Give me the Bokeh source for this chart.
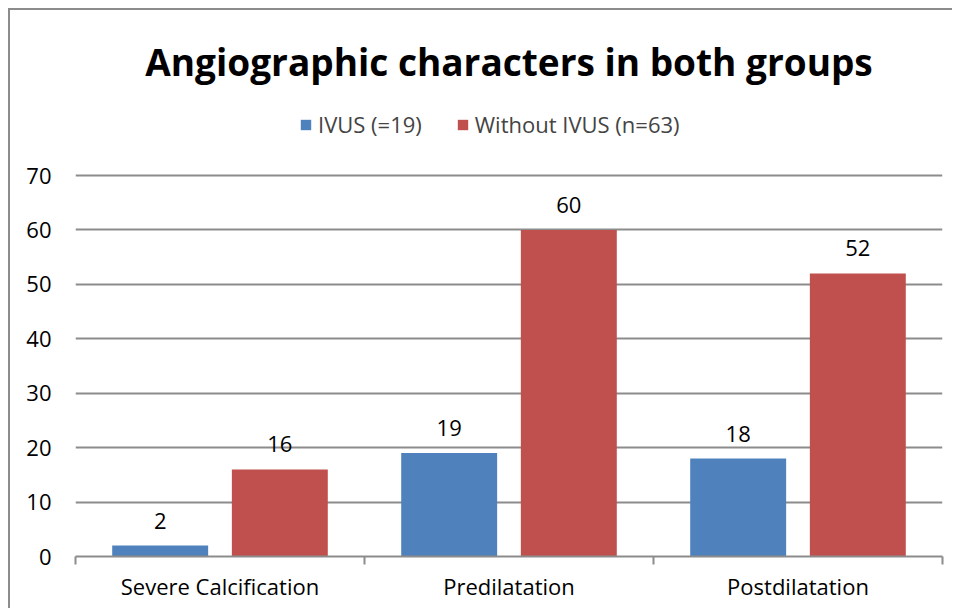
from bokeh.plotting import figure
from bokeh.models import (Range1d, FixedTicker, ColumnDataSource, LabelSet, Legend,
                          LegendItem, Title)
from bokeh.core.properties import value
from bokeh.embed import file_html
from bokeh.resources import INLINE
import numpy as np

categories = ["Severe Calcification", "Predilatation", "Postdilatation"]
ivus = [2, 19, 18]
without_ivus = [16, 60, 52]
series_names = ["IVUS (=19)", "Without IVUS (n=63)"]
y_ticks = [0, 10, 20, 30, 40, 50, 60, 70]

BLUE = "#4F81BD"
RED = "#C0504D"
GRID = "#8C8C8C"
FONT = "Open Sans"
FS = "22px"

idx = np.arange(len(categories))
bw = 0.332
off = 0.207
# the frame extends above the last tick to hold the legend (as in the original layout)
y_top = 70 * 461 / 381

p = figure(width=944, height=600, output_backend="svg", toolbar_location=None,
           x_range=Range1d(0, len(categories)), y_range=Range1d(0, y_top),
           min_border_left=65, min_border_right=12, min_border_top=85,
           min_border_bottom=54)
p.styles = {"margin-left": "8px", "margin-top": "8px",
            "border-left": "2px solid #8C8C8C", "border-top": "2px solid #8C8C8C"}
p.outline_line_color = None
p.background_fill_color = "white"
p.border_fill_color = "white"

src = ColumnDataSource(dict(
    xb=idx + 0.5 - off, xr=idx + 0.5 + off,
    ivus=ivus, wo=without_ivus,
    ivus_t=[str(v) for v in ivus], wo_t=[str(v) for v in without_ivus]))

rb = p.vbar(x="xb", top="ivus", width=bw, source=src, fill_color=BLUE, line_color=None)
rr = p.vbar(x="xr", top="wo", width=bw, source=src, fill_color=RED, line_color=None)

for xcol, ycol, tcol in (("xb", "ivus", "ivus_t"), ("xr", "wo", "wo_t")):
    p.add_layout(LabelSet(x=xcol, y=ycol, text=tcol, source=src, y_offset=17,
                          text_align="center", text_baseline="alphabetic",
                          text_font=value(FONT), text_font_size=FS, text_color="black"))

# x axis: labels at category centres, ticks at boundaries
xa = p.xaxis[0]
xa.ticker = FixedTicker(ticks=list(idx + 0.5), minor_ticks=list(range(len(categories) + 1)))
xa.major_label_overrides = {float(i + 0.5): c for i, c in enumerate(categories)}
xa.major_tick_line_color = None
xa.minor_tick_in = 0
xa.minor_tick_out = 8
xa.minor_tick_line_color = GRID
xa.minor_tick_line_width = 2
xa.axis_line_color = GRID
xa.axis_line_width = 2
xa.major_label_text_font = FONT
xa.major_label_text_font_size = FS
xa.major_label_text_color = "black"
xa.major_label_standoff = 6

ya = p.yaxis[0]
ya.ticker = FixedTicker(ticks=y_ticks)
ya.axis_line_color = None
ya.major_tick_line_color = None
ya.minor_tick_line_color = None
ya.major_label_text_font = FONT
ya.major_label_text_font_size = FS
ya.major_label_text_color = "black"
ya.major_label_standoff = 18

p.xgrid.grid_line_color = None
p.ygrid.grid_line_color = GRID
p.ygrid.grid_line_width = 2
p.ygrid.ticker = FixedTicker(ticks=y_ticks[1:])

legend = Legend(items=[LegendItem(label=series_names[0], renderers=[rb]),
                       LegendItem(label=series_names[1], renderers=[rr])],
                orientation="horizontal", location=(224, 417),
                label_text_font=FONT, label_text_font_size=FS,
                glyph_width=13, glyph_height=13, label_standoff=6, spacing=34,
                padding=0, margin=0, border_line_color=None,
                background_fill_alpha=0)
p.add_layout(legend)

p.title = Title(text="Angiographic characters in both groups", align="center",
                text_font=FONT, text_font_size="37px", text_font_style="bold",
                text_color="black", standoff=17)

open("out.html", "w").write(file_html(p, INLINE))
